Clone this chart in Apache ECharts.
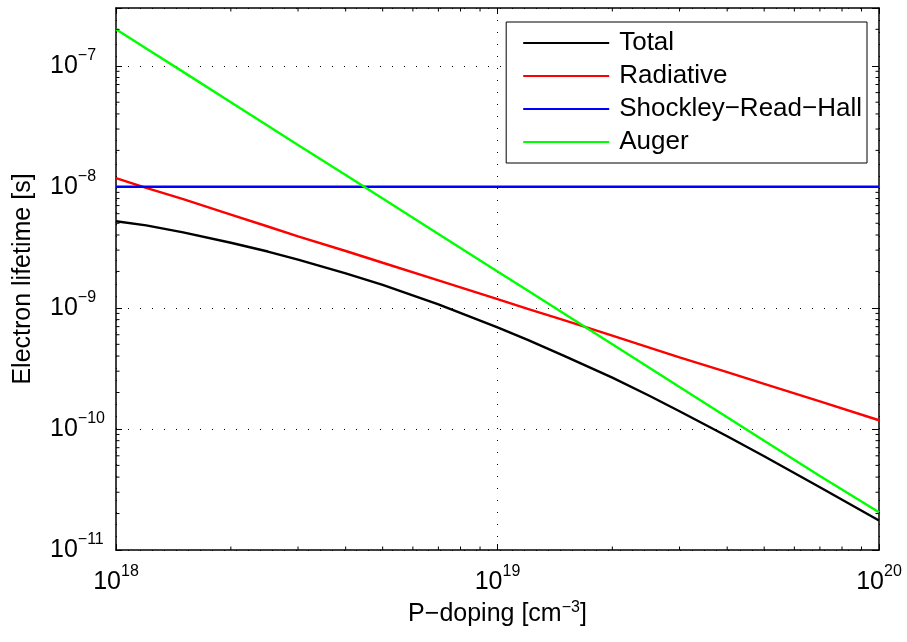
<!DOCTYPE html>
<html><head><meta charset="utf-8">
<script src="https://cdn.jsdelivr.net/npm/echarts@6/dist/echarts.min.js"></script>
<style>html,body{margin:0;padding:0;background:#fff}#c{width:907px;height:642px}</style>
</head><body><div id="c"></div>
<script>
// ---- data ----
const doping = [1e18, 1.2e18, 1.5e18, 2e18, 2.5e18, 3e18, 4e18, 5e18, 7e18, 1e19,
                1.2e19, 1.5e19, 2e19, 2.5e19, 3e19, 4e19, 5e19, 7e19, 1e20];
const total = [5.2e-9, 4.8e-9, 4.2e-9, 3.45e-9, 2.92e-9, 2.5e-9, 1.93e-9, 1.55e-9, 1.07e-9, 6.9e-10,
               5.45e-10, 4.0e-10, 2.65e-10, 1.88e-10, 1.4e-10, 8.7e-11, 5.95e-11, 3.3e-11, 1.75e-11];
const radiative = [1.18e-8, 9.8e-9, 7.9e-9, 5.9e-9, 4.7e-9, 3.9e-9, 2.95e-9, 2.36e-9, 1.69e-9, 1.18e-9,
                   9.8e-10, 7.9e-10, 5.9e-10, 4.7e-10, 3.9e-10, 2.95e-10, 2.36e-10, 1.69e-10, 1.18e-10];
const srh = [1e-8, 1e-8, 1e-8, 1e-8, 1e-8, 1e-8, 1e-8, 1e-8, 1e-8, 1e-8,
             1e-8, 1e-8, 1e-8, 1e-8, 1e-8, 1e-8, 1e-8, 1e-8, 1e-8];
const auger = [2e-7, 1.39e-7, 8.9e-8, 5e-8, 3.2e-8, 2.22e-8, 1.25e-8, 8e-9, 4.08e-9, 2e-9,
               1.39e-9, 8.9e-10, 5e-10, 3.2e-10, 2.22e-10, 1.25e-10, 8e-11, 4.08e-11, 2.05e-11];
const seriesNames = ['Total', 'Radiative', 'Shockley\u2212Read\u2212Hall', 'Auger'];
const seriesColors = ['#000000', '#ff0000', '#0000ff', '#00ff00'];
const xRange = [1e18, 1e20];
const yRange = [1e-11, 3e-7];
const xTitle = 'P\u2212doping [cm{sup|\u22123}]';
const yTitle = 'Electron lifetime [s]';

// ---- helpers ----
const FONT = '"Liberation Sans", Arial, Helvetica, sans-serif';
function minorTicks(lo, hi) {
  const out = [];
  for (let e = Math.floor(Math.log10(lo)); e <= Math.ceil(Math.log10(hi)); e++) {
    for (let m = 2; m <= 9; m++) {
      const v = m * Math.pow(10, e);
      if (v > lo && v < hi) out.push(v);
    }
  }
  return out;
}
const xMinor = minorTicks(xRange[0], xRange[1]);
const yMinor = minorTicks(yRange[0], yRange[1]);

function powLabel(v) {
  const l = Math.log10(v);
  const e = Math.round(l);
  if (Math.abs(l - e) > 1e-6) return '';
  return '{b|10}{s|' + (e < 0 ? '\u2212' + (-e) : String(e)) + '}';
}
const labelRich = {
  b: { fontSize: 25, lineHeight: 36, color: '#000', fontFamily: FONT },
  s: { fontSize: 16, lineHeight: 16, verticalAlign: 'top', color: '#000', fontFamily: FONT }
};
const axisLineStyle = { color: '#000', width: 1.5 };
const gridStyle = { show: true, lineStyle: { color: '#000', width: 1, type: [1, 11] } };

const mainSeries = [total, radiative, srh, auger].map((arr, i) => ({
  name: seriesNames[i],
  type: 'line',
  xAxisIndex: 0, yAxisIndex: 0,
  symbol: 'none',
  showSymbol: false,
  data: doping.map((x, k) => [x, arr[k]]),
  lineStyle: { color: seriesColors[i], width: 2.4 },
  itemStyle: { color: seriesColors[i] },
  z: 3
}));

const minorX = {
  type: 'custom', silent: true, xAxisIndex: 0, yAxisIndex: 0, z: 5,
  data: xMinor.map(v => [v, 1e-9]),
  renderItem: (params, api) => {
    const cs = params.coordSys;
    const p = api.coord([api.value(0), api.value(1)]);
    const b = cs.y + cs.height, t = cs.y;
    return { type: 'group', children: [
      { type: 'line', shape: { x1: p[0], y1: b, x2: p[0], y2: b - 3.5 }, style: { stroke: '#000', lineWidth: 1 } },
      { type: 'line', shape: { x1: p[0], y1: t, x2: p[0], y2: t + 3.5 }, style: { stroke: '#000', lineWidth: 1 } }
    ]};
  }
};
const minorY = {
  type: 'custom', silent: true, xAxisIndex: 0, yAxisIndex: 0, z: 5,
  data: yMinor.map(v => [1e19, v]),
  renderItem: (params, api) => {
    const cs = params.coordSys;
    const p = api.coord([api.value(0), api.value(1)]);
    const l = cs.x, r = cs.x + cs.width;
    return { type: 'group', children: [
      { type: 'line', shape: { x1: l, y1: p[1], x2: l + 3.5, y2: p[1] }, style: { stroke: '#000', lineWidth: 1 } },
      { type: 'line', shape: { x1: r, y1: p[1], x2: r - 3.5, y2: p[1] }, style: { stroke: '#000', lineWidth: 1 } }
    ]};
  }
};

const chart = echarts.init(document.getElementById('c'), null, { renderer: 'canvas' });
chart.setOption({
  animation: false,
  backgroundColor: '#fff',
  grid: { left: 116, right: 28, top: 8, bottom: 92, containLabel: false },
  legend: {
    data: seriesNames,
    orient: 'vertical',
    right: 40, top: 22,
    backgroundColor: '#fff',
    borderColor: '#000', borderWidth: 1,
    padding: [7, 5, 7, 16],
    itemWidth: 86, itemHeight: 14, itemGap: 5,
    itemStyle: { opacity: 0, borderWidth: 0 },
    textStyle: { fontSize: 26, lineHeight: 28, color: '#000', fontFamily: FONT, padding: [0, 0, 0, 5] }
  },
  xAxis: [
    {
      type: 'log', logBase: 10, min: xRange[0], max: xRange[1],
      position: 'bottom',
      axisLine: { show: true, lineStyle: axisLineStyle },
      axisTick: { show: true, inside: true, length: 6, lineStyle: { color: '#000', width: 1 } },
      axisLabel: { show: true, margin: 14, formatter: powLabel, rich: labelRich, showMinLabel: true, showMaxLabel: true, hideOverlap: false },
      splitLine: gridStyle,
      name: xTitle, nameLocation: 'middle', nameGap: 47,
      nameTextStyle: { fontSize: 25, color: '#000', fontFamily: FONT, lineHeight: 30,
        rich: { sup: { fontSize: 16, lineHeight: 16, verticalAlign: 'top', color: '#000', fontFamily: FONT } } }
    },
    {
      type: 'log', logBase: 10, min: xRange[0], max: xRange[1],
      position: 'top',
      axisLine: { show: true, lineStyle: axisLineStyle },
      axisTick: { show: true, inside: true, length: 6, lineStyle: { color: '#000', width: 1 } },
      axisLabel: { show: false },
      splitLine: { show: false }
    }
  ],
  yAxis: [
    {
      type: 'log', logBase: 10, min: yRange[0], max: yRange[1],
      position: 'left',
      axisLine: { show: true, lineStyle: axisLineStyle },
      axisTick: { show: true, inside: true, length: 6, lineStyle: { color: '#000', width: 1 } },
      axisLabel: { show: true, margin: 66, align: 'left', formatter: powLabel, rich: labelRich, showMinLabel: true, showMaxLabel: true, hideOverlap: false },
      splitLine: gridStyle,
      name: yTitle, nameLocation: 'middle', nameGap: 80, nameRotate: 90,
      nameTextStyle: { fontSize: 25, color: '#000', fontFamily: FONT }
    },
    {
      type: 'log', logBase: 10, min: yRange[0], max: yRange[1],
      position: 'right',
      axisLine: { show: true, lineStyle: axisLineStyle },
      axisTick: { show: true, inside: true, length: 6, lineStyle: { color: '#000', width: 1 } },
      axisLabel: { show: false },
      splitLine: { show: false }
    }
  ],
  series: mainSeries.concat([minorX, minorY])
});
</script>
</body></html>
